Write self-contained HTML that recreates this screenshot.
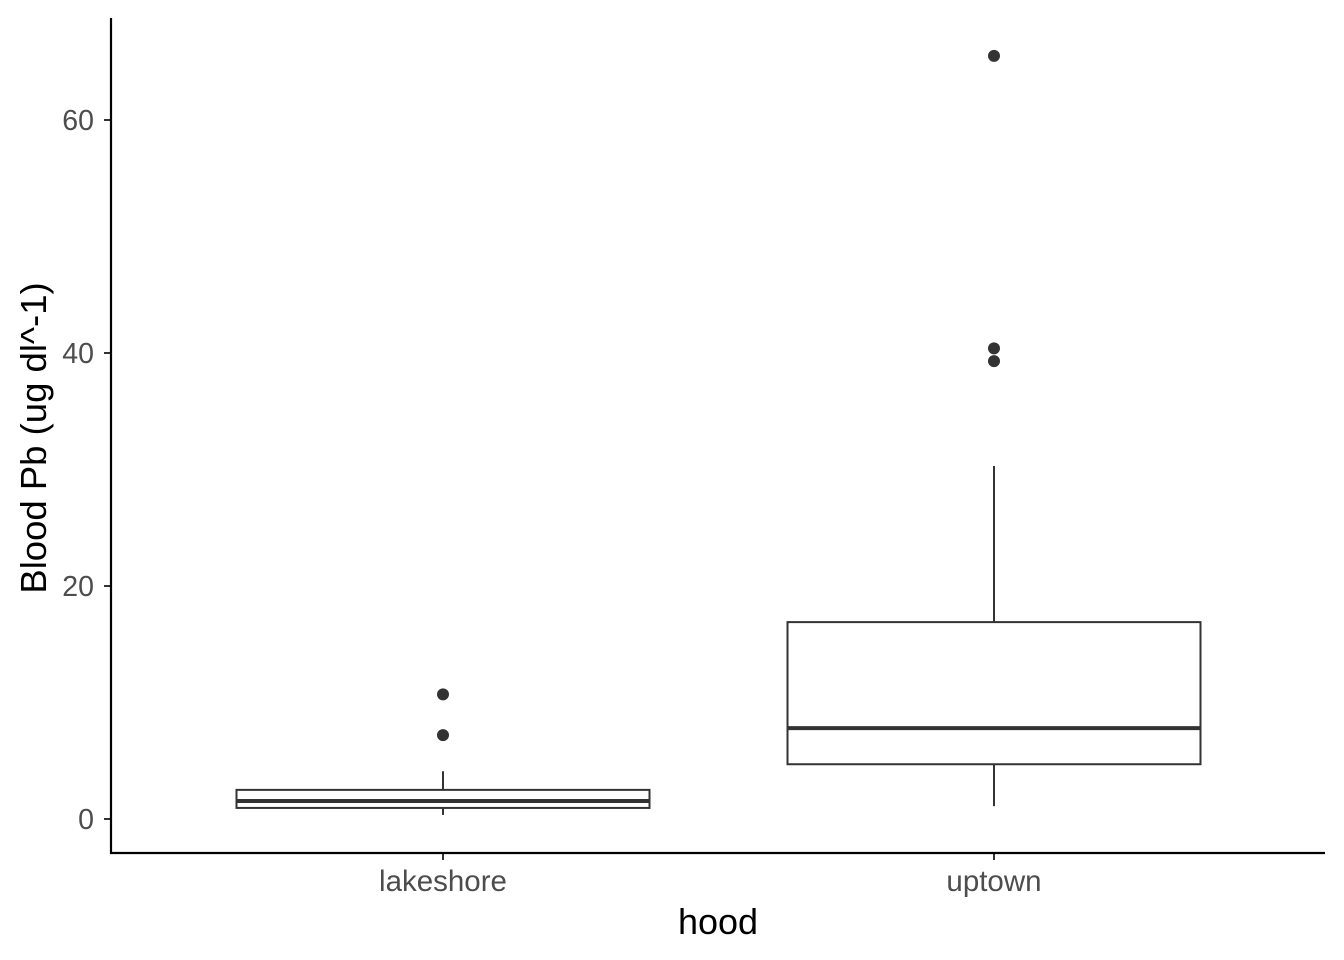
<!DOCTYPE html>
<html><head><meta charset="utf-8"><style>
body{margin:0;background:#fff;}
svg{display:block;font-family:"Liberation Sans",sans-serif;}
</style></head><body>
<svg id="chart" width="1344" height="960">
<g id="marks"></g>
<g id="axes"></g>
</svg>
<script>
const categories = ["lakeshore","uptown"];
const q1 = [0.95, 4.7];
const medians = [1.55, 7.8];
const q3 = [2.5, 16.9];
const whiskerLow = [0.35, 1.1];
const whiskerHigh = [4.1, 30.3];
const outliers = [[10.7, 7.2],[65.5, 40.4, 39.3]];
const yTicks = [0,20,40,60];

const NS="http://www.w3.org/2000/svg";
const y = v => 819 - v*11.65;
const xc = i => 443 + i*551;
const halfW = 206.5;
const marks=document.getElementById('marks'), axes=document.getElementById('axes');
function mk(tag, attrs, parent){const e=document.createElementNS(NS,tag);for(const k in attrs)e.setAttribute(k,attrs[k]);parent.appendChild(e);return e;}

categories.forEach((c,i)=>{
  const x=xc(i);
  let e=mk('line',{x1:x,x2:x,y1:y(q3[i]),y2:y(whiskerHigh[i]),stroke:'#333','stroke-width':2},marks);
  
  
  e=mk('line',{x1:x,x2:x,y1:y(q1[i]),y2:y(whiskerLow[i]),stroke:'#333','stroke-width':2},marks);
  
  
  e=mk('rect',{x:x-halfW,y:y(q3[i]),width:2*halfW,height:y(q1[i])-y(q3[i]),fill:'#fff',stroke:'#333','stroke-width':2},marks);
  
  
  e=mk('line',{x1:x-halfW,x2:x+halfW,y1:y(medians[i]),y2:y(medians[i]),stroke:'#333','stroke-width':4},marks);
  
  
  outliers[i].forEach(v=>{
    const p=mk('circle',{cx:x,cy:y(v),r:6,fill:'#333'},marks);
    
    
  });
  const t=mk('line',{x1:x,x2:x,y1:853,y2:860,stroke:'#333','stroke-width':2},axes);
  
  
  const l=mk('text',{x:x,y:891,'text-anchor':'middle','font-size':29.5,fill:'#4d4d4d'},axes);
  l.textContent=c;
  
  
});
yTicks.forEach(v=>{
  const t=mk('line',{x1:104,x2:111,y1:y(v),y2:y(v),stroke:'#333','stroke-width':2},axes);
  
  
  const l=mk('text',{x:94,y:y(v)+10,'text-anchor':'end','font-size':28.5,fill:'#4d4d4d'},axes);
  l.textContent=v;
  
  
});
let a=mk('line',{x1:111,x2:111,y1:18,y2:854,stroke:'#000','stroke-width':2.2},axes);


a=mk('line',{x1:110,x2:1325,y1:853,y2:853,stroke:'#000','stroke-width':2.2},axes);


let tt=mk('text',{x:718,y:934,'text-anchor':'middle','font-size':36,fill:'#000'},axes);
tt.textContent='hood';


tt=mk('text',{x:0,y:0,'text-anchor':'middle','font-size':36.5,fill:'#000',transform:'translate(46,438) rotate(-90)'},axes);
tt.textContent='Blood Pb (ug dl^-1)';


</script>
</body></html>
